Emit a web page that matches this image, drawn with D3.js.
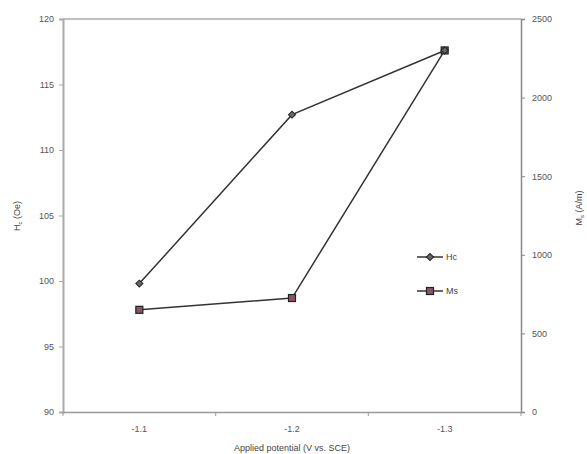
<!DOCTYPE html>
<html><head><meta charset="utf-8">
<script src="https://cdn.jsdelivr.net/npm/d3@7"></script>
<style>body{margin:0;background:#fff}svg{display:block}</style>
</head><body>
<svg id="c" width="587" height="454"></svg>
<script>
const categories = ["-1.1", "-1.2", "-1.3"];
const hcValues = [99.8, 112.7, 117.6];
const msValues = [650, 725, 2300];
const leftTicks = [90, 95, 100, 105, 110, 115, 120];
const rightTicks = [0, 500, 1000, 1500, 2000, 2500];

const svg = d3.select("#c");
const L = 63, R = 521, T = 19, B = 412;
const font = "'Liberation Sans', Arial, sans-serif";
const txt = "#555";

const x = d3.scaleBand().domain(categories).range([L, R]).padding(0);
const yL = d3.scaleLinear().domain([90, 120]).range([B, T]);
const yR = d3.scaleLinear().domain([0, 2500]).range([B, T]);

svg.append("line").attr("x1", L).attr("x2", R).attr("y1", T).attr("y2", T)
  .attr("stroke", "#aaa").attr("stroke-width", 1.5);

const gl = svg.append("g").attr("transform", `translate(${L},0)`)
  .call(d3.axisLeft(yL).tickValues(leftTicks).tickSize(4).tickPadding(5));
gl.select(".domain").attr("stroke", "#aaa").attr("stroke-width", 2);
gl.selectAll(".tick line").attr("stroke", "#aaa");
gl.selectAll(".tick text").attr("fill", txt).style("font-family", font).style("font-size", "9px");

const gr = svg.append("g").attr("transform", `translate(${R},0)`)
  .call(d3.axisRight(yR).tickValues(rightTicks).tickFormat(d3.format("d")).tickSize(4).tickPadding(7));
gr.select(".domain").attr("stroke", "#888").attr("stroke-width", 1.5);
gr.selectAll(".tick line").attr("stroke", "#888");
gr.selectAll(".tick text").attr("fill", txt).style("font-family", font).style("font-size", "9px");

const gb = svg.append("g").attr("transform", `translate(0,${B})`)
  .call(d3.axisBottom(x).tickSize(0).tickPadding(14));
gb.select(".domain").attr("stroke", "#999").attr("stroke-width", 1.5);
gb.selectAll(".tick text").attr("fill", txt).style("font-family", font).style("font-size", "9px");
const bounds = categories.map(c => x(c)).concat([x(categories[categories.length - 1]) + x.bandwidth()]);
gb.selectAll(".bt").data(bounds).enter().append("line")
  .attr("x1", d => d).attr("x2", d => d).attr("y1", 0).attr("y2", 4).attr("stroke", "#999");

const t1 = svg.append("text").attr("transform", `translate(20,216) rotate(-90)`)
  .attr("text-anchor", "middle").attr("fill", "#444").style("font-family", font).style("font-size", "9px");
t1.append("tspan").text("H");
t1.append("tspan").attr("font-size", "6px").attr("dy", 2).text("c");
t1.append("tspan").attr("dy", -2).text(" (Oe)");

const t2 = svg.append("text").attr("transform", `translate(582,208) rotate(-90)`)
  .attr("text-anchor", "middle").attr("fill", "#444").style("font-family", font).style("font-size", "9px");
t2.append("tspan").text("M");
t2.append("tspan").attr("font-size", "6px").attr("dy", 2).text("s");
t2.append("tspan").attr("dy", -2).text(" (A/m)");

svg.append("text").attr("x", (L + R) / 2).attr("y", 451).attr("text-anchor", "middle")
  .attr("fill", "#444").style("font-family", font).style("font-size", "9px")
  .text("Applied potential (V vs. SCE)");

const cx = c => x(c) + x.bandwidth() / 2;

svg.append("path").datum(categories.map((c, i) => [cx(c), yR(msValues[i])]))
  .attr("d", d3.line()).attr("fill", "none").attr("stroke", "#333").attr("stroke-width", 1.5);
svg.append("path").datum(categories.map((c, i) => [cx(c), yL(hcValues[i])]))
  .attr("d", d3.line()).attr("fill", "none").attr("stroke", "#333").attr("stroke-width", 1.5);

function hcMarker(g, px, py) {
  g.append("rect").attr("x", -2.5).attr("y", -2.5).attr("width", 5).attr("height", 5)
    .attr("transform", `translate(${px},${py}) rotate(45)`)
    .attr("fill", "#666").attr("stroke", "#222").attr("stroke-width", 1);
}
function msMarker(g, px, py) {
  g.append("rect").attr("x", px - 3.5).attr("y", py - 3.5).attr("width", 7).attr("height", 7)
    .attr("fill", "#8a5566").attr("stroke", "#222").attr("stroke-width", 1.2);
}
categories.forEach((c, i) => msMarker(svg, cx(c), yR(msValues[i])));
categories.forEach((c, i) => hcMarker(svg, cx(c), yL(hcValues[i])));

const leg = [{name: "Hc", y: 257, m: hcMarker}, {name: "Ms", y: 291, m: msMarker}];
leg.forEach(d => {
  svg.append("line").attr("x1", 417).attr("x2", 443).attr("y1", d.y).attr("y2", d.y)
    .attr("stroke", "#333").attr("stroke-width", 1.5);
  d.m(svg, 430, d.y);
  svg.append("text").attr("x", 446).attr("y", d.y + 3).attr("fill", "#444")
    .style("font-family", font).style("font-size", "9px").text(d.name);
});
</script>
</body></html>
